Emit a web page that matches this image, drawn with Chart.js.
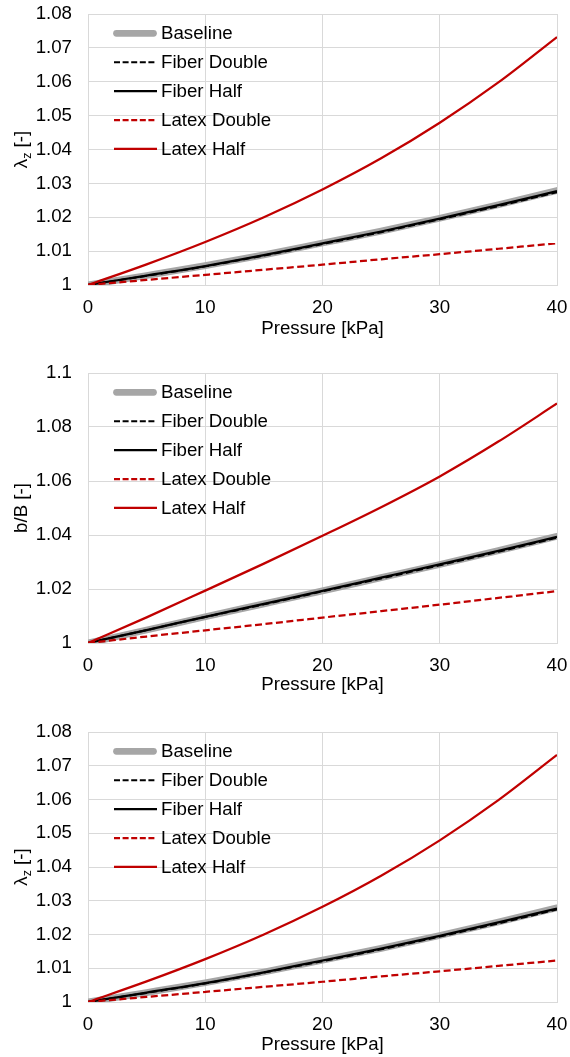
<!DOCTYPE html>
<html>
<head>
<meta charset="utf-8">
<script src="https://cdn.jsdelivr.net/npm/chart.js@4.4.1/dist/chart.umd.min.js"></script>
<style>
  html, body { margin: 0; padding: 0; background: #fff; }
  #wrap { position: relative; width: 570px; height: 1057px; }
  canvas { position: absolute; left: 0; }
</style>
</head>
<body>
<div id="wrap">
  <canvas id="c1" width="570" height="345" style="top:0px"></canvas>
  <canvas id="c2" width="570" height="360" style="top:345px"></canvas>
  <canvas id="c3" width="570" height="352" style="top:705px"></canvas>
</div>
<script>
// ---------- data ----------
const pressure = [0, 5, 10, 15, 20, 25, 30, 35, 40];
const seriesNames = ['Baseline', 'Fiber Double', 'Fiber Half', 'Latex Double', 'Latex Half'];

// Chart 1 & 3: lambda_z
const lzBaseline    = [1.0000, 1.0028, 1.0057, 1.0089, 1.0124, 1.0159, 1.0197, 1.0237, 1.0279];
const lzFiberDouble = [1.0000, 1.0027, 1.0055, 1.0087, 1.0121, 1.0156, 1.0194, 1.0233, 1.0274];
const lzFiberHalf   = [1.0000, 1.0028, 1.0056, 1.0088, 1.0123, 1.0158, 1.0196, 1.0236, 1.0277];
const lzLatexDouble = [1.0000, 1.0015, 1.0030, 1.0045, 1.0060, 1.0076, 1.0091, 1.0107, 1.0123];
const lzLatexHalf   = [1.0000, 1.0061, 1.0127, 1.0200, 1.0282, 1.0374, 1.0479, 1.0598, 1.0732];

// Chart 2: b/B
const bbBaseline    = [1.0000, 1.0048, 1.0097, 1.0145, 1.0193, 1.0242, 1.0291, 1.0342, 1.0395];
const bbFiberDouble = [1.0000, 1.0048, 1.0096, 1.0143, 1.0191, 1.0239, 1.0288, 1.0338, 1.0390];
const bbFiberHalf   = [1.0000, 1.0048, 1.0097, 1.0145, 1.0193, 1.0242, 1.0291, 1.0341, 1.0393];
const bbLatexDouble = [1.0000, 1.0024, 1.0047, 1.0070, 1.0094, 1.0118, 1.0142, 1.0167, 1.0192];
const bbLatexHalf   = [1.0000, 1.0095, 1.0194, 1.0294, 1.0397, 1.0503, 1.0617, 1.0746, 1.0887];

const xTicks = [0, 10, 20, 30, 40];
const yTicks1 = [1, 1.01, 1.02, 1.03, 1.04, 1.05, 1.06, 1.07, 1.08];
const yTicks2 = [1, 1.02, 1.04, 1.06, 1.08, 1.1];

// ---------- styling ----------
const FONT = "'Liberation Sans', Arial, sans-serif";
const FS = 18.7;
const TXT = '#000';
const GRID = '#d9d9d9';
const styles = [
  { color: '#a6a6a6', width: 6.75, dash: [], legendDash: [], cap: 'round', order: 5 },
  { color: '#000000', width: 2.0, dash: [7, 3.5], legendDash: [6, 2.6], cap: 'butt', order: 4 },
  { color: '#000000', width: 2.25, dash: [], legendDash: [], cap: 'butt', order: 3 },
  { color: '#c00000', width: 2.25, dash: [7, 3.5], legendDash: [6, 2.6], cap: 'butt', order: 2 },
  { color: '#c00000', width: 2.25, dash: [], legendDash: [], cap: 'butt', order: 1 }
];

function toPoints(ys) { return pressure.map((x, i) => ({ x: x, y: ys[i] })); }

function makeDatasets(arrs) {
  return arrs.map((ys, i) => ({
    label: seriesNames[i],
    data: toPoints(ys),
    borderColor: styles[i].color,
    backgroundColor: styles[i].color,
    borderWidth: styles[i].width,
    borderDash: styles[i].dash,
    borderCapStyle: styles[i].cap,
    legendDash: styles[i].legendDash,
    pointRadius: 0,
    pointHoverRadius: 0,
    fill: false,
    cubicInterpolationMode: 'monotone',
    order: styles[i].order
  }));
}

// legend drawn inside the plot area
const insideLegend = {
  id: 'insideLegend',
  afterDraw(chart) {
    const ca = chart.chartArea, ctx = chart.ctx;
    ctx.save();
    chart.data.datasets.forEach((ds, i) => {
      const y = ca.top + 19.3 + i * 28.9;
      ctx.beginPath();
      ctx.strokeStyle = ds.borderColor;
      ctx.lineWidth = ds.borderWidth;
      ctx.setLineDash(ds.legendDash || []);
      if (ds.borderCapStyle === 'round') {
        ctx.lineCap = 'round';
        ctx.moveTo(ca.left + 28.5, y);
        ctx.lineTo(ca.left + 65.5, y);
      } else {
        ctx.lineCap = 'butt';
        ctx.moveTo(ca.left + 26, y);
        ctx.lineTo(ca.left + 69, y);
      }
      ctx.stroke();
      ctx.setLineDash([]);
      ctx.fillStyle = TXT;
      ctx.font = FS + 'px ' + FONT;
      ctx.textBaseline = 'middle';
      ctx.textAlign = 'left';
      ctx.fillText(ds.label, ca.left + 73, y + 0.5);
    });
    ctx.restore();
  }
};

// rotated y-axis title with optional subscript
const yTitle = {
  id: 'yTitle',
  afterDraw(chart) {
    const parts = chart.options.plugins.yTitle.parts;
    const ca = chart.chartArea, ctx = chart.ctx;
    ctx.save();
    ctx.fillStyle = TXT;
    ctx.textBaseline = 'alphabetic';
    ctx.textAlign = 'left';
    let total = 0;
    parts.forEach(p => { ctx.font = p.size + 'px ' + FONT; p.w = ctx.measureText(p.t).width; total += p.w; });
    ctx.translate(27, (ca.top + ca.bottom) / 2);
    ctx.rotate(-Math.PI / 2);
    let x = -total / 2;
    parts.forEach(p => {
      ctx.font = p.size + 'px ' + FONT;
      ctx.fillText(p.t, x, p.dy || 0);
      x += p.w;
    });
    ctx.restore();
  }
};

function zeroPad(axis) {
  axis.paddingTop = 0; axis.paddingBottom = 0;
  axis.paddingLeft = 0; axis.paddingRight = 0;
}

function makeChart(id, arrs, yMin, yMax, yStep, padTop, padBottom, xAxisH, titleParts) {
  return new Chart(document.getElementById(id), {
    type: 'line',
    data: { datasets: makeDatasets(arrs) },
    plugins: [insideLegend, yTitle],
    options: {
      responsive: false,
      animation: false,
      devicePixelRatio: 1,
      layout: { padding: { top: padTop, bottom: padBottom, left: 0, right: 13 } },
      plugins: {
        legend: { display: false },
        tooltip: { enabled: false },
        yTitle: { parts: titleParts }
      },
      scales: {
        x: {
          type: 'linear',
          min: xTicks[0], max: xTicks[xTicks.length - 1],
          ticks: { stepSize: 10, color: TXT, font: { family: FONT, size: FS }, padding: 12, maxRotation: 0 },
          afterBuildTicks(axis) { axis.ticks = xTicks.map(v => ({ value: v })); },
          grid: { color: GRID, lineWidth: 1, drawTicks: false },
          border: { color: GRID, width: 1 },
          title: { display: true, text: 'Pressure [kPa]', color: TXT, font: { family: FONT, size: FS }, padding: { top: 0, bottom: 0 } },
          afterFit(axis) { axis.height = xAxisH; zeroPad(axis); }
        },
        y: {
          min: yMin, max: yMax,
          ticks: {
            stepSize: yStep, color: TXT, font: { family: FONT, size: FS }, padding: 16,
            callback: v => parseFloat(Number(v).toFixed(2)).toString()
          },
          grid: { color: GRID, lineWidth: 1, drawTicks: false },
          border: { color: GRID, width: 1 },
          afterFit(axis) { axis.width = 88; zeroPad(axis); }
        }
      }
    }
  });
}

const lzTitle = () => [
  { t: 'λ', size: FS },
  { t: 'z', size: 12.5, dy: 3.5 },
  { t: ' [-]', size: FS }
];

makeChart('c1', [lzBaseline, lzFiberDouble, lzFiberHalf, lzLatexDouble, lzLatexHalf],
  yTicks1[0], yTicks1[yTicks1.length - 1], 0.01, 14, 5, 55, lzTitle());
makeChart('c2', [bbBaseline, bbFiberDouble, bbFiberHalf, bbLatexDouble, bbLatexHalf],
  yTicks2[0], yTicks2[yTicks2.length - 1], 0.02, 28, 9, 53, [{ t: 'b/B [-]', size: FS }]);
makeChart('c3', [lzBaseline, lzFiberDouble, lzFiberHalf, lzLatexDouble, lzLatexHalf],
  yTicks1[0], yTicks1[yTicks1.length - 1], 0.01, 27, 1, 54, lzTitle());
</script>
</body>
</html>
